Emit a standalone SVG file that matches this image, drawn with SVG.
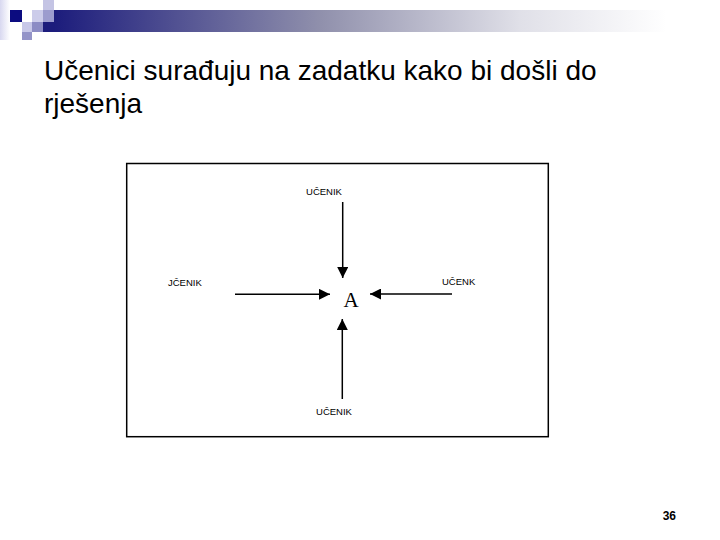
<svg xmlns="http://www.w3.org/2000/svg" width="720" height="540" viewBox="0 0 720 540">
<defs>
<linearGradient id="bar" x1="0" y1="0" x2="1" y2="0">
<stop offset="0" stop-color="#1c1c7c"/>
<stop offset="0.4" stop-color="#9090ac"/>
<stop offset="0.7" stop-color="#e0e0e8"/>
<stop offset="0.92" stop-color="#ffffff"/>
</linearGradient>
<linearGradient id="edge" x1="0" y1="0" x2="1" y2="0">
<stop offset="0" stop-color="#d8d8f0"/>
<stop offset="1" stop-color="#ffffff"/>
</linearGradient>
<marker id="ah" viewBox="0 0 10 10" refX="10" refY="5" markerWidth="11" markerHeight="11" markerUnits="userSpaceOnUse" orient="auto">
<path d="M0,0 L10,5 L0,10 Z" fill="#000"/>
</marker>
</defs>
<style>
.lbl{font-family:"Liberation Sans",Arial,sans-serif;font-size:9.5px;fill:#000}
.conn{stroke:#000;stroke-width:1.5;fill:none}
</style>
<rect width="720" height="540" fill="#fff"/>
<g id="header">
<rect x="0" y="0" width="10" height="40" fill="url(#edge)"/>
<rect x="54" y="10" width="666" height="22" fill="url(#bar)"/>
<rect x="43" y="22" width="11" height="10" fill="#1c1c7c"/>
<rect x="10" y="10" width="12" height="12" fill="#0c0c80"/>
<rect x="32" y="10" width="11" height="12" fill="#ccccea"/>
<rect x="43" y="0" width="11" height="10" fill="#c4c4e4"/>
<rect x="43" y="10" width="11" height="12" fill="#9c9cce"/>
<rect x="22" y="22" width="10" height="10" fill="#c8c8e8"/>
<rect x="32" y="22" width="11" height="10" fill="#8c8cc4"/>
<rect x="22" y="32" width="10" height="8" fill="#9494c8"/>
</g>
<g id="title" font-family="'Liberation Sans',Arial,sans-serif" font-size="28" fill="#000">
<text x="44" y="80">Učenici surađuju na zadatku kako bi došli do</text>
<text x="44" y="113">rješenja</text>
</g>
<g id="frame">
<rect x="126.7" y="163.5" width="421.6" height="273.2" fill="none" stroke="#000" stroke-width="1.5"/>
</g>
<g id="connectors">
<line class="conn" x1="342.7" y1="202" x2="342.7" y2="278" marker-end="url(#ah)"/>
<line class="conn" x1="235" y1="294.3" x2="330" y2="294.3" marker-end="url(#ah)"/>
<line class="conn" x1="452" y1="294" x2="370" y2="294" marker-end="url(#ah)"/>
<line class="conn" x1="342.3" y1="399" x2="342.3" y2="319" marker-end="url(#ah)"/>
</g>
<g id="node-top"><text class="lbl" x="324" y="195" text-anchor="middle">UČENIK</text></g>
<g id="node-left"><text class="lbl" x="168" y="286">JČENIK</text></g>
<g id="node-right"><text class="lbl" x="442" y="285">UČENK</text></g>
<g id="node-bottom"><text class="lbl" x="334" y="415" text-anchor="middle">UČENIK</text></g>
<g id="node-center"><text x="351" y="307" text-anchor="middle" font-family="'Liberation Serif','Times New Roman',serif" font-size="21" fill="#000">A</text></g>
<g id="page-number"><text x="676" y="520" text-anchor="end" font-family="'Liberation Sans',Arial,sans-serif" font-size="12" font-weight="bold" fill="#000">36</text></g>
</svg>
